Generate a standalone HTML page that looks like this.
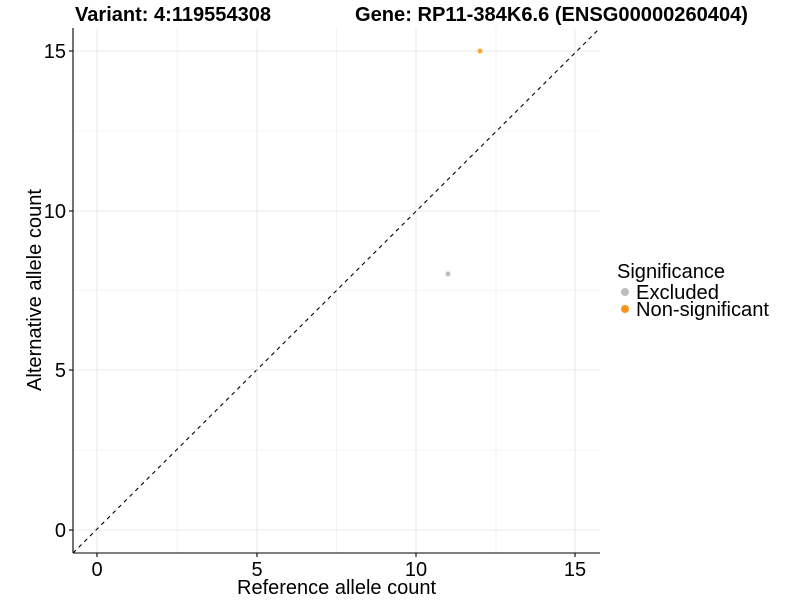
<!DOCTYPE html>
<html><head><style>body{margin:0;background:#fff}svg{display:block}text{font-family:"Liberation Sans",Arial,sans-serif}</style></head><body>
<svg width="800" height="600" xmlns="http://www.w3.org/2000/svg">
<rect width="800" height="600" fill="#fff"/>
<g stroke="#ebebeb" stroke-width="0.6">
<line x1="177" y1="28" x2="177" y2="553"/><line x1="336.5" y1="28" x2="336.5" y2="553"/><line x1="496" y1="28" x2="496" y2="553"/>
<line x1="73" y1="450" x2="600" y2="450"/><line x1="73" y1="290.5" x2="600" y2="290.5"/><line x1="73" y1="131" x2="600" y2="131"/>
</g>
<g stroke="#ebebeb" stroke-width="1.1">
<line x1="97" y1="28" x2="97" y2="553"/><line x1="257" y1="28" x2="257" y2="553"/><line x1="416" y1="28" x2="416" y2="553"/><line x1="575" y1="28" x2="575" y2="553"/>
<line x1="73" y1="530" x2="600" y2="530"/><line x1="73" y1="370" x2="600" y2="370"/><line x1="73" y1="211" x2="600" y2="211"/><line x1="73" y1="51" x2="600" y2="51"/>
</g>
<line x1="73" y1="553" x2="600" y2="28" stroke="#000" stroke-width="1.1" stroke-dasharray="4,4"/>
<circle cx="257" cy="370" r="1" fill="#bbb"/>
<circle cx="448" cy="274" r="2.5" fill="#bebebe"/>
<circle cx="480" cy="51" r="2.5" fill="#f9a830"/>
<g stroke="#000" stroke-width="1.1">
<line x1="73" y1="28" x2="73" y2="553"/><line x1="73" y1="553" x2="600" y2="553"/>
<line x1="69" y1="530" x2="73" y2="530"/><line x1="69" y1="370" x2="73" y2="370"/><line x1="69" y1="211" x2="73" y2="211"/><line x1="69" y1="51" x2="73" y2="51"/>
<line x1="97" y1="553" x2="97" y2="557"/><line x1="257" y1="553" x2="257" y2="557"/><line x1="416" y1="553" x2="416" y2="557"/><line x1="575" y1="553" x2="575" y2="557"/>
</g>
<g font-size="20" fill="#000">
<text x="66" y="537" text-anchor="end">0</text><text x="66" y="377" text-anchor="end">5</text><text x="66" y="218" text-anchor="end">10</text><text x="66" y="58" text-anchor="end">15</text>
<text x="97" y="576" text-anchor="middle">0</text><text x="257" y="576" text-anchor="middle">5</text><text x="416" y="576" text-anchor="middle">10</text><text x="575" y="576" text-anchor="middle">15</text>
<text x="237" y="594" textLength="199" lengthAdjust="spacingAndGlyphs">Reference allele count</text>
<text transform="translate(41,391) rotate(-90)" textLength="202" lengthAdjust="spacingAndGlyphs">Alternative allele count</text>
<text x="617" y="278" textLength="108" lengthAdjust="spacingAndGlyphs">Significance</text>
<text x="636" y="299" textLength="83" lengthAdjust="spacingAndGlyphs">Excluded</text>
<text x="636" y="316" textLength="133" lengthAdjust="spacingAndGlyphs">Non-significant</text>
</g>
<circle cx="625" cy="292" r="4" fill="#bebebe"/>
<circle cx="625" cy="309" r="4" fill="#f7941d"/>
<g font-size="20" font-weight="bold">
<text x="75" y="21" textLength="196" lengthAdjust="spacingAndGlyphs">Variant: 4:119554308</text>
<text x="355" y="21" textLength="393" lengthAdjust="spacingAndGlyphs">Gene: RP11-384K6.6 (ENSG00000260404)</text>
</g>
</svg>
</body></html>
